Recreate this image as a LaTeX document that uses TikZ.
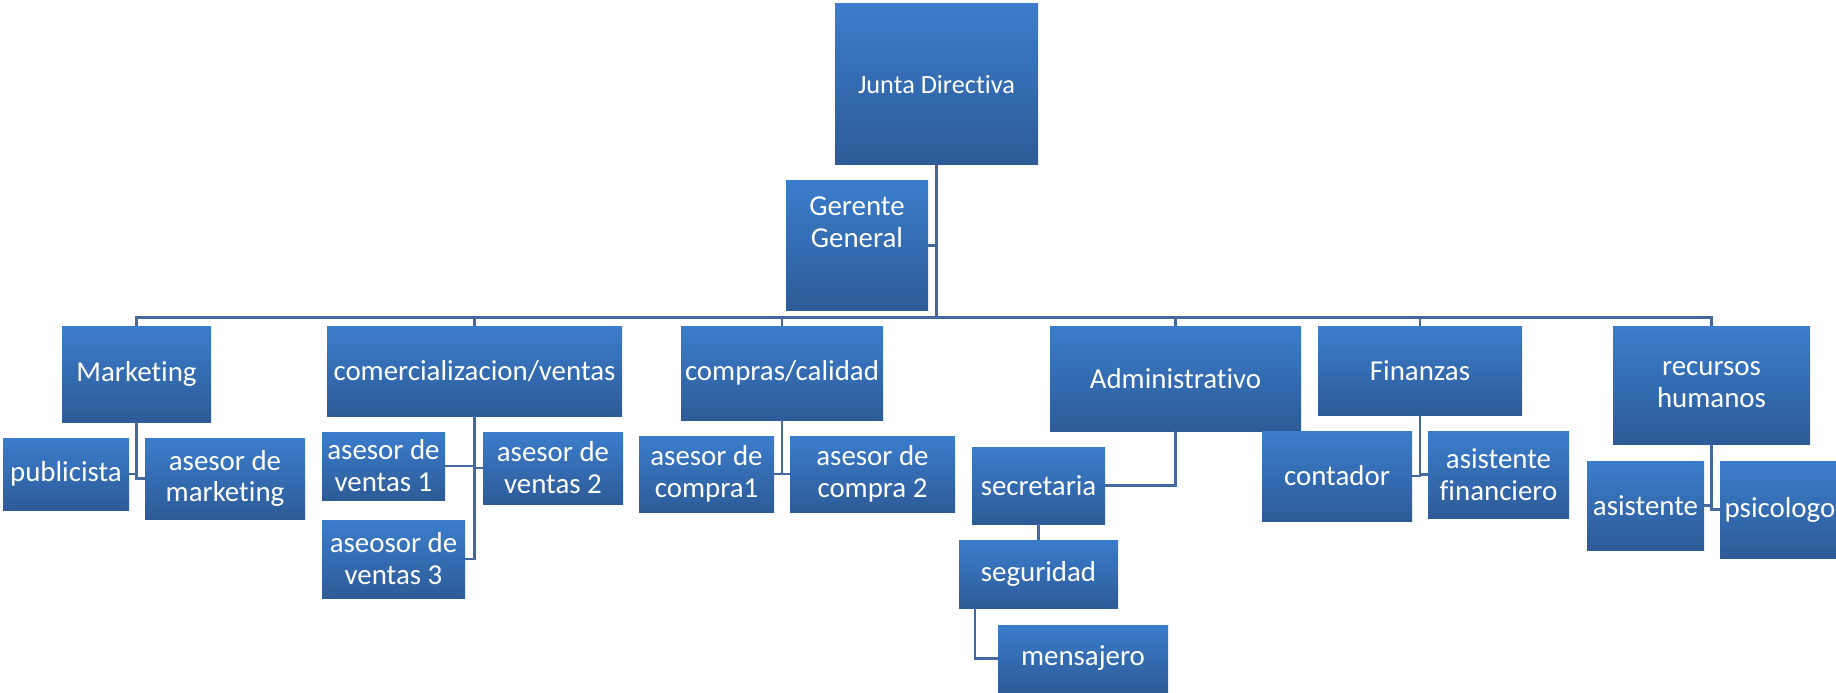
\documentclass[tikz,border=0pt]{standalone}
\usepackage{fontspec}
\setmainfont{Carlito}[Ligatures=NoCommon]
\definecolor{boxtop}{RGB}{59,125,204}
\definecolor{boxbot}{RGB}{45,91,151}
\definecolor{linkc}{RGB}{69,105,156}
\tikzset{
  box/.style={rectangle, inner sep=0pt, top color=boxtop, bottom color=boxbot,
    text=white, align=center, font=\fontsize{14.5}{16}\selectfont},
  link/.style={draw=linkc, line width=1.1bp},
  boxtext/.style={text=white, align=center, inner sep=0pt, font=\fontsize{14.5}{16}\selectfont}
}
\newcommand\orgbox[6]{\node[box, minimum width={(#4-#2)*0.5bp}, minimum height={(#5-#3)*0.5bp}] (#1) at ({(#2+#4)/2},{(#3+#5)/2}) {#6};}
\begin{document}
\begin{tikzpicture}[x=0.5bp, y=-0.5bp]
\useasboundingbox (0,0) rectangle (1836,693);
\clip (0,0) rectangle (1836,693);
% boxes
\node[box, font=\fontsize{13.2}{16}\selectfont, minimum width={203*0.5bp}, minimum height={161*0.5bp}] (junta) at (936.5,84.5) {Junta Directiva};
\orgbox{gerente}{786}{181}{928}{310}{}
\node[boxtext] (gerentetxt) at (857,222) {Gerente\\General};
\orgbox{marketing}{62}{326}{211}{422}{Marketing}
\orgbox{comercial}{327}{326}{622}{416}{comercializacion/ventas}
\orgbox{compras}{681}{326}{883}{420}{compras/calidad}
\orgbox{admin}{1050}{326}{1301}{431}{Administrativo}
\orgbox{finanzas}{1318}{326}{1522}{415}{Finanzas}
\orgbox{rrhh}{1613}{326}{1810}{444}{recursos\\humanos}
\orgbox{publicista}{3}{438}{129}{510}{publicista}
\orgbox{asesormkt}{145}{438}{305}{519}{asesor de\\marketing}
\orgbox{ventas1}{322}{432}{445}{500}{asesor de\\ventas 1}
\orgbox{ventas2}{483}{432}{623}{504}{asesor de\\ventas 2}
\orgbox{ventas3}{322}{520}{465}{598}{aseosor de\\ventas 3}
\orgbox{compra1}{639}{436}{774}{512}{asesor de\\compra1}
\orgbox{compra2}{790}{436}{955}{512}{asesor de\\compra 2}
\orgbox{secretaria}{972}{447}{1105}{524}{secretaria}
\orgbox{seguridad}{959}{540}{1118}{608}{seguridad}
\orgbox{mensajero}{998}{625}{1168}{692}{mensajero}
\orgbox{contador}{1262}{431}{1412}{521}{contador}
\orgbox{asisfin}{1428}{431}{1569}{518}{asistente\\financiero}
\orgbox{asistente}{1587}{461}{1704}{550}{asistente}
\orgbox{psicologo}{1720}{461}{1840}{558}{psicologo}
% connectors
\coordinate (bus) at (936.5,317.5);
\draw[link] (junta.south) -- (bus);
\draw[link] (junta.south) |- (gerente.east);
\foreach \d in {marketing,comercial,compras,admin,finanzas,rrhh}
  \draw[link] (bus) -| (\d.north);
\draw[link] (marketing.south) |- (publicista.east);
\draw[link] (marketing.south) |- (asesormkt.west);
\draw[link] (comercial.south) |- (ventas1.east);
\draw[link] (comercial.south) |- (ventas2.west);
\draw[link] (comercial.south) |- (ventas3.east);
\draw[link] (compras.south) |- (compra1.east);
\draw[link] (compras.south) |- (compra2.west);
\draw[link] (admin.south) |- (secretaria.east);
\draw[link] (secretaria.south) -- (seguridad.north);
\draw[link] ([xshift=8bp]seguridad.south west) |- (mensajero.west);
\draw[link] (finanzas.south) |- (contador.east);
\draw[link] (finanzas.south) |- (asisfin.west);
\draw[link] (rrhh.south) |- (asistente.east);
\draw[link] (rrhh.south) |- (psicologo.west);
\end{tikzpicture}
\end{document}
